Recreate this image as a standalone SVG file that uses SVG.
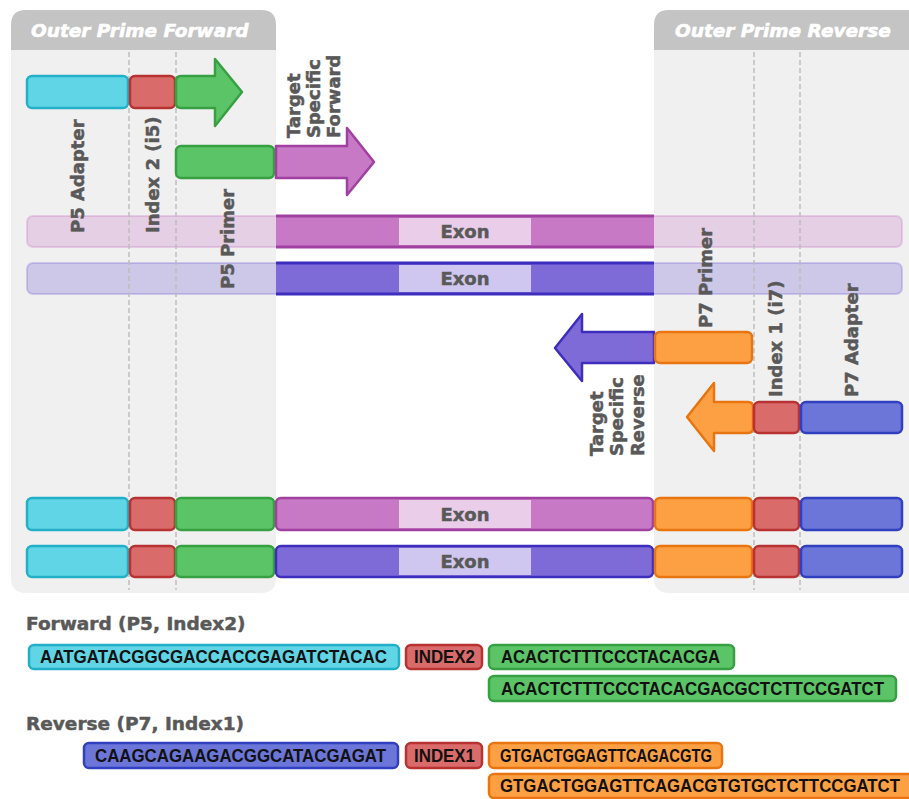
<svg xmlns="http://www.w3.org/2000/svg" width="909" height="799" viewBox="0 0 909 799">
<style>
.panel{fill:#f0f0f0}
.head{fill:#c4c4c4}
.htxt{font-family:"DejaVu Sans",sans-serif;font-weight:bold;font-style:italic;font-size:18.5px;fill:#fff;stroke:#fff;stroke-width:0.6}
.lbl{font-family:"DejaVu Sans",sans-serif;font-weight:bold;font-size:18px;fill:#595959;stroke:#595959;stroke-width:0.5}
.guide{stroke:#bdbdbd;stroke-width:1.5;stroke-dasharray:5 3;fill:none}
.cy{fill:#5fd5e5;stroke:#22b0c8;stroke-width:2.5}
.rd{fill:#d96b6b;stroke:#b83232;stroke-width:2.5}
.gn{fill:#5bc467;stroke:#36a043;stroke-width:2.5}
.pk{fill:#c879c6;stroke:#a040a0;stroke-width:2.5}
.vi{fill:#7f6bd8;stroke:#3d2ebd;stroke-width:2.5}
.or{fill:#fda044;stroke:#e87510;stroke-width:2.5}
.bl{fill:#6b76d8;stroke:#3040c0;stroke-width:2.5}
.arr{stroke-linejoin:round}
.seq{font-family:"Liberation Sans",Arial,sans-serif;font-weight:bold;font-size:17.5px;fill:#111}
.sub{font-family:"DejaVu Sans",sans-serif;font-weight:bold;font-size:18.5px;fill:#595959;stroke:#595959;stroke-width:0.5}
</style>

<g id="panel-forward">
<path class="panel" d="M11,25 Q11,10 26,10 H261 Q276,10 276,25 V578 Q276,593 261,593 H26 Q11,593 11,578 Z"/>
<path class="head" d="M11,50 V25 Q11,10 26,10 H261 Q276,10 276,25 V50 Z"/>
<text class="htxt" x="31" y="37">Outer Prime Forward</text>
</g>
<g id="panel-reverse">
<path class="panel" d="M654,25 Q654,10 669,10 H930 V593 H669 Q654,593 654,578 Z"/>
<path class="head" d="M654,50 V25 Q654,10 669,10 H930 V50 Z"/>
<text class="htxt" x="675" y="37">Outer Prime Reverse</text>
</g>

<g id="faded-bars">
<rect x="27" y="216" width="875" height="31" rx="6" fill="#c879c6" fill-opacity="0.28" stroke="#c879c6" stroke-opacity="0.3" stroke-width="2"/>
<rect x="27" y="263" width="875" height="31" rx="6" fill="#7f6bd8" fill-opacity="0.3" stroke="#7f6bd8" stroke-opacity="0.3" stroke-width="2"/>
</g>

<g id="connectors">
<line class="guide" x1="129" y1="52" x2="129" y2="590"/>
<line class="guide" x1="176" y1="52" x2="176" y2="590"/>
<line class="guide" x1="754" y1="52" x2="754" y2="590"/>
<line class="guide" x1="800" y1="52" x2="800" y2="590"/>
</g>

<g id="p5-adapter">
<rect class="cy" x="27" y="76" width="101" height="32" rx="5"/>
<text class="lbl" transform="translate(84,233) rotate(-90)">P5 Adapter</text>
</g>
<g id="index2">
<rect class="rd" x="130" y="76" width="45" height="32" rx="5"/>
<text class="lbl" transform="translate(159,233) rotate(-90)">Index 2 (i5)</text>
</g>
<g id="p5-arrow">
<path class="gn arr" d="M181,76 H215 V59 L242,92 L215,126 V108 H181 Q176,108 176,103 V81 Q176,76 181,76 Z"/>
</g>
<g id="p5-primer">
<rect class="gn" x="176" y="146" width="98" height="32" rx="5"/>
<text class="lbl" transform="translate(234,289) rotate(-90)">P5 Primer</text>
</g>
<g id="target-forward">
<path class="pk arr" d="M276,146 H347 V128 L374,162 L347,195 V178 H276 Z"/>
<text class="lbl" transform="translate(300,138) rotate(-90)">Target</text>
<text class="lbl" transform="translate(320,138) rotate(-90)">Specific</text>
<text class="lbl" transform="translate(340,138) rotate(-90)">Forward</text>
</g>

<g id="exon-top">
<rect x="276" y="216" width="378" height="31" fill="#c879c6"/>
<line x1="276" y1="216" x2="654" y2="216" stroke="#a040a0" stroke-width="3"/>
<line x1="276" y1="247" x2="654" y2="247" stroke="#a040a0" stroke-width="3"/>
<rect x="399" y="218" width="132" height="27" fill="#e9cde9"/>
<text class="lbl" x="465" y="238" text-anchor="middle">Exon</text>
</g>
<g id="exon-bottom">
<rect x="276" y="263" width="378" height="31" fill="#7f6bd8"/>
<line x1="276" y1="263" x2="654" y2="263" stroke="#3d2ebd" stroke-width="3"/>
<line x1="276" y1="294" x2="654" y2="294" stroke="#3d2ebd" stroke-width="3"/>
<rect x="399" y="265" width="132" height="27" fill="#cfc7ef"/>
<text class="lbl" x="465" y="285" text-anchor="middle">Exon</text>
</g>

<g id="target-reverse">
<path class="vi arr" d="M654,332 H582 V314 L555,348 L582,381 V363 H654 Z"/>
<text class="lbl" transform="translate(603,456) rotate(-90)">Target</text>
<text class="lbl" transform="translate(623,456) rotate(-90)">Specific</text>
<text class="lbl" transform="translate(644,456) rotate(-90)">Reverse</text>
</g>
<g id="p7-primer">
<rect class="or" x="655" y="332" width="97" height="31" rx="5"/>
<text class="lbl" transform="translate(712,328) rotate(-90)">P7 Primer</text>
</g>
<g id="p7-arrow">
<path class="or arr" d="M748,402 H714 V383 L687,417 L714,451 V433 H748 Q753,433 753,428 V407 Q753,402 748,402 Z"/>
</g>
<g id="index1">
<rect class="rd" x="754" y="402" width="45" height="31" rx="5"/>
<text class="lbl" transform="translate(782,397) rotate(-90)">Index 1 (i7)</text>
</g>
<g id="p7-adapter">
<rect class="bl" x="801" y="402" width="101" height="31" rx="5"/>
<text class="lbl" transform="translate(858,397) rotate(-90)">P7 Adapter</text>
</g>

<g id="product-1">
<rect class="cy" x="27" y="498" width="101" height="32" rx="5"/>
<rect class="rd" x="130" y="498" width="45" height="32" rx="5"/>
<rect class="gn" x="176" y="498" width="98" height="32" rx="5"/>
<rect class="pk" x="276" y="498" width="377" height="32" rx="5"/>
<rect x="399" y="500" width="132" height="28" fill="#e9cde9"/>
<text class="lbl" x="465" y="521" text-anchor="middle">Exon</text>
<rect class="or" x="655" y="498" width="97" height="32" rx="5"/>
<rect class="rd" x="754" y="498" width="45" height="32" rx="5"/>
<rect class="bl" x="801" y="498" width="101" height="32" rx="5"/>
</g>
<g id="product-2">
<rect class="cy" x="27" y="546" width="101" height="31" rx="5"/>
<rect class="rd" x="130" y="546" width="45" height="31" rx="5"/>
<rect class="gn" x="176" y="546" width="98" height="31" rx="5"/>
<rect class="vi" x="276" y="546" width="377" height="31" rx="5"/>
<rect x="399" y="548" width="132" height="27" fill="#cfc7ef"/>
<text class="lbl" x="465" y="568" text-anchor="middle">Exon</text>
<rect class="or" x="655" y="546" width="97" height="31" rx="5"/>
<rect class="rd" x="754" y="546" width="45" height="31" rx="5"/>
<rect class="bl" x="801" y="546" width="101" height="31" rx="5"/>
</g>

<g id="forward-seq">
<text class="sub" x="26" y="630">Forward (P5, Index2)</text>
<rect class="cy" x="29" y="645" width="370" height="24" rx="5"/>
<text class="seq" x="40" y="663" textLength="347" lengthAdjust="spacingAndGlyphs">AATGATACGGCGACCACCGAGATCTACAC</text>
<rect class="rd" x="406" y="645" width="76" height="24" rx="5"/>
<text class="seq" x="414" y="663" textLength="61" lengthAdjust="spacingAndGlyphs">INDEX2</text>
<rect class="gn" x="489" y="645" width="245" height="24" rx="5"/>
<text class="seq" x="501" y="663" textLength="219" lengthAdjust="spacingAndGlyphs">ACACTCTTTCCCTACACGA</text>
<rect class="gn" x="489" y="676" width="407" height="25" rx="5"/>
<text class="seq" x="501" y="695" textLength="383" lengthAdjust="spacingAndGlyphs">ACACTCTTTCCCTACACGACGCTCTTCCGATCT</text>
</g>
<g id="reverse-seq">
<text class="sub" x="26" y="730">Reverse (P7, Index1)</text>
<rect class="bl" x="84" y="743" width="314" height="25" rx="5"/>
<text class="seq" x="95" y="762" textLength="291" lengthAdjust="spacingAndGlyphs">CAAGCAGAAGACGGCATACGAGAT</text>
<rect class="rd" x="406" y="743" width="76" height="25" rx="5"/>
<text class="seq" x="414" y="762" textLength="61" lengthAdjust="spacingAndGlyphs">INDEX1</text>
<rect class="or" x="489" y="743" width="233" height="25" rx="5"/>
<text class="seq" x="500" y="762" textLength="212" lengthAdjust="spacingAndGlyphs">GTGACTGGAGTTCAGACGTG</text>
<rect class="or" x="489" y="774" width="430" height="24" rx="5"/>
<text class="seq" x="500" y="792" textLength="400" lengthAdjust="spacingAndGlyphs">GTGACTGGAGTTCAGACGTGTGCTCTTCCGATCT</text>
</g>
</svg>
